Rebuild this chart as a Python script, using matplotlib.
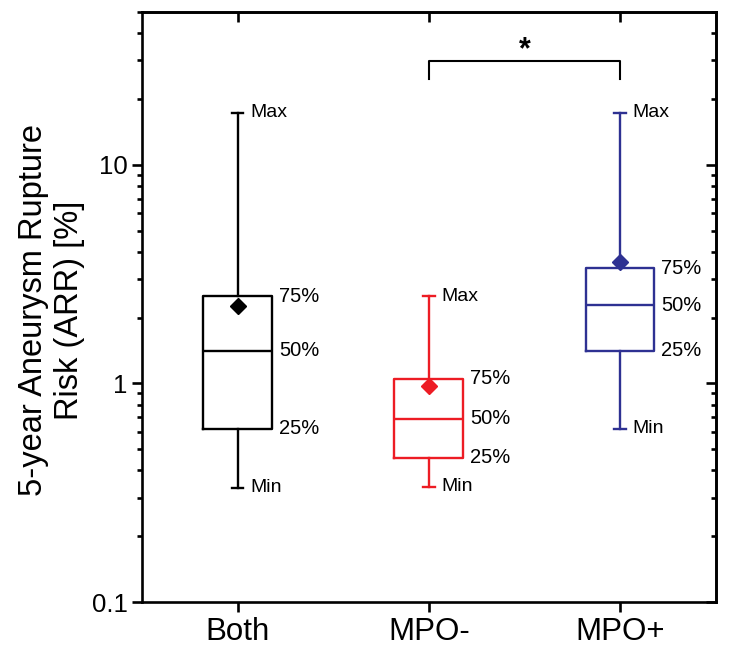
import matplotlib.pyplot as plt
from matplotlib.ticker import LogLocator, FuncFormatter, NullFormatter

plt.rcParams['font.family'] = ['Liberation Sans', 'DejaVu Sans']

groups = ['Both', 'MPO-', 'MPO+']
colors = ['#000000', '#ED1C24', '#2E3192']

# (log scale)
mins = [0.334, 0.336, 0.62]
q1s = [0.62, 0.458, 1.41]
medians = [1.41, 0.69, 2.28]
q3s = [2.51, 1.05, 3.36]
maxs = [17.3, 2.51, 17.3]
means = [2.26, 0.97, 3.58]

# significance bracket between MPO- and MPO+
sig_pair = (2, 3)
sig_top = 29.7
sig_bottom = 24.7
sig_text = '*'

fig = plt.figure(figsize=(7.29, 6.55), dpi=100)
ax = fig.add_axes([0.1948, 0.0809, 0.7869, 0.9008])

positions = [1, 2, 3]
for i in range(len(groups)):
    stats = [dict(med=medians[i], q1=q1s[i], q3=q3s[i], whislo=mins[i],
                  whishi=maxs[i], mean=means[i], fliers=[])]
    c = colors[i]
    ax.bxp(stats, positions=[positions[i]], widths=0.36, capwidths=0.06,
           showmeans=True, showfliers=False,
           boxprops=dict(color=c, linewidth=1.7),
           medianprops=dict(color=c, linewidth=1.7),
           whiskerprops=dict(color=c, linewidth=1.7),
           capprops=dict(color=c, linewidth=1.7),
           meanprops=dict(marker='D', markerfacecolor=c, markeredgecolor=c,
                          markersize=8))

    # labels next to whiskers and box
    x = positions[i]
    ax.annotate('Max', (x, maxs[i]), xytext=(9, 0), textcoords='offset points',
                va='center', ha='left', fontsize=14)
    ax.annotate('Min', (x, mins[i]), xytext=(9, 0), textcoords='offset points',
                va='center', ha='left', fontsize=14)
    for val, lab in [(q3s[i], '75%'), (medians[i], '50%'), (q1s[i], '25%')]:
        ax.annotate(lab, (x + 0.18, val), xytext=(5, 0), textcoords='offset points',
                    va='center', ha='left', fontsize=14.5)

# bracket
x0, x1 = sig_pair
ax.plot([x0, x0, x1, x1], [sig_bottom, sig_top, sig_top, sig_bottom],
        color='black', linewidth=1.5)
ax.text((x0 + x1) / 2, sig_top * 1.12, sig_text, ha='center', va='center',
        fontsize=22, fontweight='bold')

ax.set_yscale('log')
ax.set_ylim(0.1, 50)
ax.set_xlim(0.5, 3.5)
ax.set_xticks(positions)
ax.set_xticklabels(groups, fontsize=22.5)

ax.yaxis.set_major_locator(LogLocator(base=10))
ax.yaxis.set_minor_locator(LogLocator(base=10, subs=range(2, 10)))
ax.yaxis.set_major_formatter(FuncFormatter(lambda v, p: '{:g}'.format(v)))
ax.yaxis.set_minor_formatter(NullFormatter())
ax.tick_params(axis='y', labelsize=18.5)

for s in ax.spines.values():
    s.set_linewidth(1.9)

ax.tick_params(which='major', length=7, width=1.9)
ax.tick_params(which='minor', length=3.6, width=1.9)
ax.tick_params(axis='x', which='both', top=False, direction='out')
ax.tick_params(axis='y', which='both', right=False)

# secondary copies for inward ticks on top and right
ax_top = ax.secondary_xaxis('top')
ax_top.set_xticks(positions)
ax_top.tick_params(direction='in', length=7, width=1.9, labeltop=False)
ax_right = ax.secondary_yaxis('right')
ax_right.yaxis.set_major_locator(LogLocator(base=10))
ax_right.yaxis.set_minor_locator(LogLocator(base=10, subs=range(2, 10)))
ax_right.tick_params(which='major', direction='in', length=7, width=1.9, labelright=False)
ax_right.tick_params(which='minor', direction='in', length=3.6, width=1.9)
ax_right.yaxis.set_minor_formatter(NullFormatter())
ax_right.yaxis.set_major_formatter(NullFormatter())
ax_top.spines['top'].set_linewidth(1.9)
ax_right.spines['right'].set_linewidth(1.9)

ax.set_ylabel('5-year Aneurysm Rupture\nRisk (ARR) [%]', fontsize=23.5)
ax.yaxis.set_label_coords(-0.10, 0.495)

fig.savefig('out.png', dpi=100)
